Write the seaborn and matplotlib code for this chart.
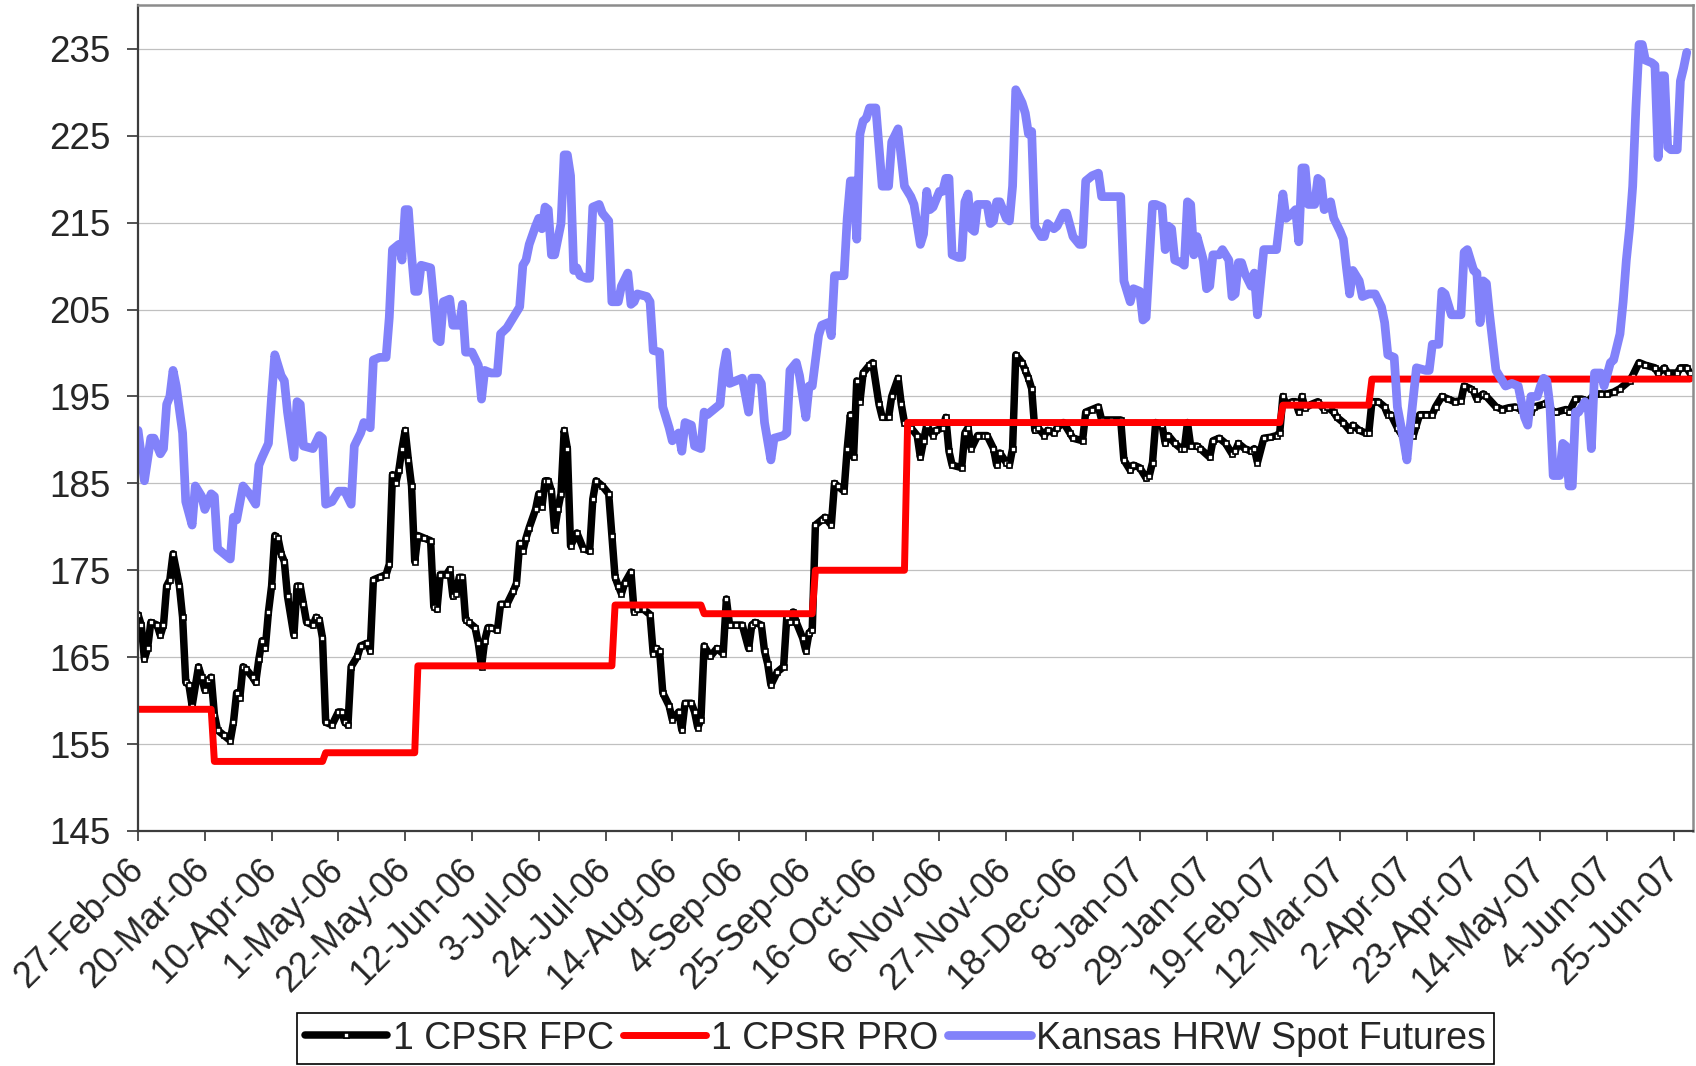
import pandas as pd
import matplotlib
matplotlib.use("Agg")
import matplotlib.pyplot as plt
import seaborn as sns

sns.set_style("white")
plt.rcParams["font.family"] = ["Liberation Sans", "DejaVu Sans"]

start = pd.Timestamp("2006-02-27")

# all day counts are days since 27-Feb-06
fpc_days = [0, 1, 2, 3, 4, 6, 7, 8, 9, 10, 11, 13, 14, 15, 16, 17, 19, 20, 21, 22, 23, 24, 25, 27, 29, 30,
            31, 32, 33, 34, 36, 37, 38, 39, 40, 41, 42, 43, 44, 45, 46, 47, 49, 50, 51, 52, 53, 55, 56, 57,
            58, 59, 61, 63, 64, 65, 66, 67, 69, 70, 72, 73, 74, 76, 78, 79, 80, 81,
            82, 83, 84, 85, 86, 87, 88, 90, 92, 93, 94, 95, 97, 98, 99, 100, 101, 102, 103, 104, 106, 107,
            108, 109, 110, 111, 113, 114, 116, 118, 119, 120, 121, 122, 123, 125, 126, 127, 128, 129, 130,
            131, 132, 133, 134, 135, 136, 138, 140, 142, 143, 144, 146, 148, 149, 150, 151, 152, 153, 155,
            156, 157, 159, 161,
            162, 163, 164, 165, 167, 168, 170, 171, 172, 174, 175, 176, 177, 178, 180, 182, 184, 185, 186,
            188, 190, 192, 193, 194, 196, 197, 198, 199, 201, 203, 204, 205, 206, 207, 209, 210, 211, 212,
            213, 215, 216, 218, 219, 220, 222, 223, 224, 225, 226, 227, 228, 230, 231, 233, 234, 236, 237,
            239, 240, 241, 243, 245,
            246, 247, 248, 250, 251, 253, 254, 255, 256, 259, 260, 261, 262, 264, 266, 267, 269, 270, 271,
            273, 274, 275, 276, 278, 279, 280, 281, 282, 283, 285, 286, 288, 289, 291, 293, 294, 297, 298,
            300, 302, 303, 306, 309, 310, 312, 313, 315, 317, 318, 319, 320, 322, 323, 324, 326,
            328, 329, 330, 331, 333, 334, 337, 338, 340, 342, 344, 345, 346, 348, 350, 351, 352, 354, 356,
            358, 359, 360, 361, 363, 364, 365, 366, 367, 369, 371, 373, 374, 376, 377, 379, 381, 382, 384,
            386, 387, 388, 390, 392, 393, 394, 396, 397, 399, 401, 402, 403, 405, 407, 408, 410,
            412, 414, 416, 417, 419, 420, 421, 423, 424, 427, 429, 431, 433, 435, 438, 439, 442, 443, 445,
            446, 449, 450, 452, 454, 456, 458, 460, 462, 464, 466, 469, 470, 472, 474, 477, 478, 480, 481,
            484, 485, 487, 488]
fpc_price = [169.9, 168.7, 164.8, 166.0, 169.0, 168.7, 167.5, 168.7, 173.2, 173.9, 176.9, 173.2, 169.6,
             162.1, 161.8, 159.4, 163.9, 162.7, 161.2, 162.4, 162.7, 158.4, 156.6, 156.0, 155.4, 157.5,
             160.9, 160.3, 163.9, 163.6, 162.7, 162.1, 164.8, 166.9, 166.0, 170.2, 173.2, 179.0, 178.7,
             176.9, 176.0, 172.0, 167.5, 173.2, 173.2, 171.1, 169.0, 168.7, 169.6, 169.3,
             167.2, 157.5, 157.2, 158.7, 158.7, 157.5, 157.2, 163.9, 165.1, 166.3, 166.6, 165.7, 173.9,
             174.2, 174.5, 175.7, 186.0, 185.0,
             186.5, 189.0, 191.1, 187.7, 184.7, 176.0, 179.0, 178.7, 178.4, 170.8, 170.5, 174.5, 174.5,
             175.1, 172.0, 172.3, 174.2, 174.2, 169.3, 169.0, 168.4, 166.6,
             163.9, 166.9, 168.4, 168.4, 168.1, 171.1, 171.1, 172.6, 173.5, 178.1, 177.2, 178.7, 179.9,
             182.0, 183.8, 182.3, 185.3, 185.3, 184.1,
             179.6, 182.0, 183.8, 191.1, 189.0, 177.8, 179.3, 177.5, 177.2, 183.2, 185.3, 184.7, 183.8,
             179.0, 174.2, 173.2, 172.3, 173.5, 174.8,
             170.2, 170.5, 170.5, 169.9,
             165.4, 166.0, 165.7, 160.9, 159.4, 157.8, 158.7, 156.6, 159.7, 159.7, 158.7, 156.9, 157.8,
             166.3, 165.1, 166.0, 165.4, 171.7, 168.7,
             168.7, 168.7, 166.0, 168.7, 169.0, 168.7, 165.7, 164.2, 161.8, 163.3, 163.9, 169.6, 169.0,
             170.2, 169.0, 167.2, 165.7, 167.8, 168.1,
             180.2, 180.8, 181.1, 180.2, 185.0, 184.7, 184.1, 189.0, 192.9, 188.0, 196.8, 194.4, 197.7,
             198.6, 198.9, 194.1, 192.6, 192.6, 195.0,
             197.1, 194.1, 192.0, 191.4, 190.5,
             188.0, 189.9, 191.7, 190.5, 191.1, 191.4, 192.6, 188.7, 187.1, 186.8, 190.8, 191.4, 189.0,
             190.5, 190.5, 190.5, 189.0, 187.1, 188.5,
             187.4, 187.1, 189.0, 199.8, 198.9, 198.0, 197.1, 195.9, 191.1, 191.4, 190.5, 191.1, 190.8,
             191.4, 192.0, 190.8, 190.2, 189.9, 193.2,
             193.5, 193.8, 192.3, 192.3, 192.3, 187.7, 186.5, 187.1, 186.8, 185.6, 185.9, 187.4, 192.0,
             191.7, 189.6, 190.5, 189.6,
             189.0, 189.0, 192.0, 189.3, 189.3, 189.0, 188.0, 189.9, 190.2, 189.6, 188.4, 188.7, 189.6,
             189.0, 188.7, 189.0, 187.4, 190.2, 190.3,
             190.5, 190.8, 195.0, 194.1, 194.4, 194.4, 193.2, 195.0, 193.7, 194.1, 194.4, 193.5, 193.8,
             193.2, 192.6, 192.0, 191.1, 191.7, 191.1,
             190.8, 190.8, 194.4, 194.4, 193.8, 192.9, 192.9, 191.4, 190.8, 190.5, 190.5, 191.7, 192.9,
             192.9, 192.9, 193.8, 195.0,
             194.7, 194.4, 194.5, 196.2, 195.9, 195.6, 194.7, 195.3, 195.0, 193.8, 193.5, 193.7, 193.8,
             193.5, 193.2, 193.8, 194.1, 194.3, 193.2,
             193.2, 193.5, 193.2, 194.7, 194.7, 194.4, 195.3, 195.3, 195.3, 195.5, 195.9, 196.8, 197.4,
             198.9, 198.6, 198.3, 197.7, 198.3, 197.7,
             197.7, 198.3, 198.3, 197.7]

pro_days = [0, 23, 24, 58, 59, 87, 88, 149, 150, 177, 178, 212, 213, 241, 242, 359, 360, 387, 388, 488]
pro_price = [159, 159, 153, 153, 154, 154, 164, 164, 171, 171, 170, 170, 175, 175, 192, 192, 194, 194,
             197, 197]

hrw_days = [0, 2, 4, 5, 7, 8, 9, 10, 11, 12, 14, 15, 17, 18, 20, 21, 23, 24, 25, 27, 29, 30, 31, 33, 35,
            37, 38, 39, 41, 42, 43, 45, 46, 47, 49, 50, 51, 52, 55, 57, 58, 59, 61, 63, 65, 67, 68, 70, 71,
            73, 74, 76, 78, 79,
            80, 82, 83, 84, 85, 86, 87, 88, 89, 92, 93, 94, 95, 96, 98, 99, 101, 102, 103, 105, 107, 108,
            109, 111, 113, 114, 116, 117, 120, 121, 122, 123, 125, 126, 127, 128, 129, 130, 131, 133, 134,
            135, 136, 137, 138, 139, 141, 142, 143, 145, 146, 148, 149, 151, 152, 154, 155, 156, 157, 160,
            161, 162,
            164, 165, 167, 168, 170, 171, 172, 174, 175, 177, 178, 179, 182, 183, 184, 185, 186, 188, 190,
            192, 193, 195, 196, 197, 199, 200, 203, 204, 205, 207, 208, 210, 211, 212, 214, 215, 217, 218,
            219, 222, 223, 224, 225, 226, 227, 228, 229, 230, 232, 234, 236, 237, 239, 241, 243, 244, 246,
            247, 248, 249, 250, 252, 253, 254, 255, 256, 258, 259, 260, 261, 262, 263, 264, 267, 268, 269,
            270, 271, 273, 274, 275, 276, 278, 279, 280, 281, 282, 284, 285, 286, 288, 289, 291, 292, 294,
            296, 297, 298, 300, 302, 303, 306, 309, 310, 312, 313, 315, 316, 317, 319, 320, 322, 323, 324,
            325,
            326, 328, 329, 330, 331, 332, 333, 335, 336, 337, 338, 340, 341, 343, 344, 345, 346, 347, 348,
            350, 351, 352, 354, 356, 358, 360, 361, 363, 364, 365, 366, 367, 368, 370, 371, 372, 373, 374,
            375, 376, 378, 379, 380, 381, 382, 384, 385, 387, 389, 391, 392, 393, 395, 396, 398, 399, 400,
            402, 405,
            406, 407, 409, 410, 411, 413, 416, 417, 418, 420, 421, 422, 423, 424, 425, 427, 428, 430, 432,
            434, 435, 436, 437, 438, 440, 441, 442, 443, 444, 445, 447, 448, 449, 450, 451, 452, 453, 455,
            456, 457, 458, 460, 461, 463, 464, 466, 467, 468, 469, 470, 471, 472, 473, 474, 476, 477, 478,
            479, 480, 481, 482, 484, 485, 486, 487]
hrw_price = [191.1, 185.3, 190.2, 190.2, 188.4, 189.0, 194.1, 195.0, 198.0, 196.2, 190.8, 182.9, 180.2,
             184.7, 183.5, 182.0, 183.8, 183.5, 177.5, 176.9, 176.3, 181.1, 180.8, 184.7, 183.8,
             182.6, 187.1, 188.0, 189.6, 195.0, 199.8, 197.4, 196.8, 193.2, 188.0, 194.4, 194.1, 189.3,
             189.0, 190.5, 190.2, 182.6, 182.9, 184.1, 184.1, 182.6, 189.3, 190.8, 192.0,
             191.4, 199.2, 199.5, 199.5, 204.1,
             211.9, 212.5, 210.7, 216.5, 216.5, 211.3, 207.1, 207.1, 210.1, 209.8, 205.9, 201.6, 201.3,
             205.9, 206.2, 203.2, 203.2, 205.6, 200.1, 200.1, 198.6, 194.7,
             198.0, 197.7, 197.7, 202.2, 202.9, 203.5, 205.3, 210.1, 210.7, 212.5, 214.6, 215.5, 214.3,
             216.8, 216.5, 211.3, 211.3, 214.9, 222.8,
             222.8, 220.4, 209.5, 209.8, 208.9, 208.6, 208.6, 216.8, 217.1, 216.1, 215.2, 205.9, 205.9,
             207.7, 209.2, 205.6, 205.9, 206.8, 206.5,
             205.9, 200.3,
             200.1, 193.8, 191.4, 189.9, 190.8, 188.7, 192.0, 191.7, 189.3, 189.0, 193.2, 192.9, 193.8,
             194.1, 198.0, 200.1, 196.5, 196.8, 197.1,
             193.2, 197.1, 197.1, 196.5, 192.0, 187.7, 190.2, 190.5, 190.8, 198.0, 198.9, 197.4, 192.6,
             196.2, 196.2, 202.0, 203.2, 203.5, 202.0,
             208.9, 208.9, 215.5, 219.8, 219.8, 213.1, 225.2, 226.7, 227.0, 228.2, 228.2, 219.2, 219.2,
             224.3, 225.8, 219.2, 218.0, 217.1, 212.5,
             213.7, 218.6, 216.5, 216.8, 218.6, 218.6, 220.1, 220.1, 211.3, 211.0, 211.0, 217.4, 218.3,
             214.3, 214.0, 217.1, 217.1, 214.9, 215.2,
             217.4, 217.4, 215.5, 215.2, 219.2, 230.3, 228.8, 227.6, 225.2, 225.5, 214.6, 213.4, 213.4,
             214.9, 214.3, 214.6, 216.1, 216.1, 213.4,
             212.5, 212.5, 219.8, 220.4, 220.7, 218.0, 218.0, 218.0, 208.3, 205.9, 207.4, 207.1, 203.8,
             204.1, 217.1, 217.1, 216.8, 211.9, 214.6,
             214.3,
             210.7, 210.4, 210.1, 217.4, 217.1, 211.3, 213.4, 210.7, 207.4, 207.7, 211.3, 211.3, 211.9,
             210.7, 206.5, 206.8, 210.4, 210.4, 209.2,
             207.7, 209.2, 204.4, 211.9, 211.9, 211.9, 218.3, 215.5, 216.1, 216.5, 212.8, 221.3, 221.3,
             217.1, 217.1, 220.1, 219.8, 216.5, 216.8,
             217.4, 215.5, 214.0, 213.1, 209.8, 206.8, 209.5, 208.3, 206.5, 206.8, 206.8, 205.3, 203.5,
             199.8, 199.5, 193.8, 189.9, 187.7, 191.4,
             198.3, 198.0,
             198.0, 201.0, 201.0, 207.1, 206.8, 204.4, 204.4, 211.6, 211.9, 209.5, 209.2, 203.5, 208.3,
             208.0, 204.4, 198.0, 197.4, 196.2, 196.5,
             196.2, 194.4, 192.6, 191.7, 195.0, 195.0, 196.2, 197.1, 196.8, 193.8, 185.9, 185.9, 189.6,
             189.3, 184.7, 184.7, 193.2, 193.2, 194.4,
             193.8, 189.0, 197.7, 197.7, 196.2, 198.9, 199.2, 202.2, 205.9, 210.7, 214.3, 219.2, 228.2,
             235.5, 235.5, 233.7, 233.4, 233.1, 222.5,
             231.9, 231.9, 223.7, 223.4, 223.4, 231.3, 232.8, 234.6]

series_names = ["1 CPSR FPC", "1 CPSR PRO", "Kansas HRW Spot Futures"]
tick_dates = pd.date_range("2006-02-27", "2007-06-25", freq="21D")
y_ticks = list(range(145, 236, 10))


def frame(days, price):
    return pd.DataFrame({"date": start + pd.to_timedelta(days, unit="D"), "price": price})


fig = plt.figure(figsize=(16.96, 10.66), dpi=100)
ax = fig.add_axes([0.0814, 0.2205, 0.9169, 0.7744])

sns.lineplot(data=frame(fpc_days, fpc_price), x="date", y="price", ax=ax, estimator=None, sort=False,
             color="black", linewidth=5.4, marker="s", markersize=3.6, markerfacecolor="white",
             markeredgecolor="black", markeredgewidth=1.2, label=series_names[0])
sns.lineplot(data=frame(pro_days, pro_price), x="date", y="price", ax=ax, estimator=None, sort=False,
             color="#ff0000", linewidth=5.0, label=series_names[1])
sns.lineplot(data=frame(hrw_days, hrw_price), x="date", y="price", ax=ax, estimator=None, sort=False,
             color="#8282fa", linewidth=6.3, label=series_names[2])
for ln in ax.get_lines():
    ln.set_solid_joinstyle("round")

ax.set_xlim(start, start + pd.Timedelta(days=489))
ax.set_ylim(145, 240)
ax.set_yticks(y_ticks)
ax.set_xticks(tick_dates)
ax.set_xticklabels([f"{t.day}-{t:%b-%y}" for t in tick_dates], rotation=45, ha="right",
                   va="center", rotation_mode="anchor")
ax.set_xlabel("")
ax.set_ylabel("")

ax.grid(axis="y", color="#c0c0c0", linewidth=0.9)
ax.grid(axis="x", visible=False)
ax.set_axisbelow(True)

for side in ["left", "bottom"]:
    ax.spines[side].set_color("#3c3c3c")
    ax.spines[side].set_linewidth(1.6)
for side in ["top", "right"]:
    ax.spines[side].set_color("#8c8c8c")
    ax.spines[side].set_linewidth(1.8)

ax.tick_params(axis="y", left=True, direction="out", length=8, width=1.2, color="#333333",
               labelsize=26.5, pad=12)
ax.tick_params(axis="x", bottom=True, direction="out", length=7, width=1.2, color="#333333",
               labelsize=26, pad=17)

handles, labels = ax.get_legend_handles_labels()
if ax.get_legend() is not None:
    ax.get_legend().remove()
leg = fig.legend(handles, labels, loc="upper center", bbox_to_anchor=(0.528, 0.0497), ncol=3,
                 fontsize=27, frameon=True, fancybox=False, edgecolor="black", framealpha=1,
                 borderpad=0.2, borderaxespad=0, handlelength=2.2, handletextpad=0.15,
                 columnspacing=0.25)
leg.get_frame().set_linewidth(1.2)

fig.savefig("out.png", dpi=100)
